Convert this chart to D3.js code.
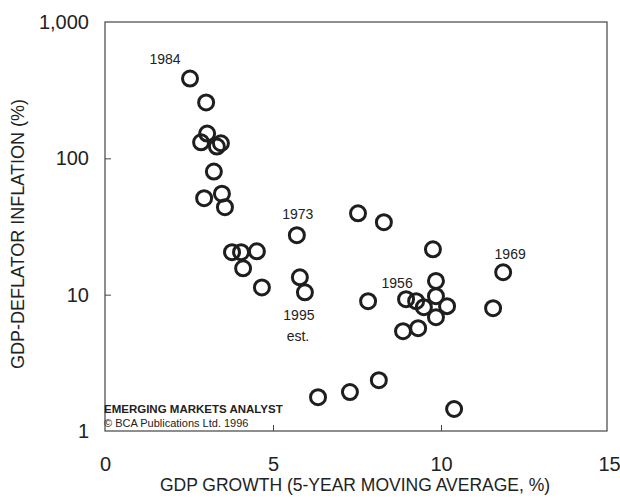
<!DOCTYPE html>
<html>
<head>
<meta charset="utf-8">
<script src="https://cdn.jsdelivr.net/npm/d3@7"></script>
<style>
  body { margin: 0; background: #fff; overflow: hidden; }
  svg { display: block; }
  svg text { font-family: "Liberation Sans", Arial, sans-serif; fill: #222; }
</style>
</head>
<body>
<div id="chart"></div>
<script>
// GDP growth (5-yr moving avg, %) vs GDP-deflator inflation (%)
const growth = [2.53, 3.01, 3.04, 2.86, 3.33, 3.45, 3.24, 2.95, 3.48, 3.57,
  5.71, 3.78, 4.05, 4.52, 4.11, 4.67, 5.80, 5.95, 7.53, 8.30,
  9.76, 9.85, 7.83, 8.96, 9.26, 9.85, 9.49, 10.18, 9.85, 8.87,
  9.32, 11.85, 11.55, 6.34, 7.29, 8.15, 10.39];
const inflation = [385, 257, 152, 131, 122, 129, 80, 51, 55, 43.8,
  27.3, 20.5, 20.5, 20.8, 15.6, 11.3, 13.4, 10.4, 39.5, 34,
  21.5, 12.6, 8.96, 9.27, 8.96, 9.75, 8.1, 8.24, 6.84, 5.4,
  5.68, 14.6, 7.96, 1.77, 1.93, 2.36, 1.45];
const xTicks = [0, 5, 10, 15];
const yTicks = [1, 10, 100, 1000];
// year labels: index of point they belong to
const labelPoint = [0, 10, 24, 31, 17];
const labelText = [['1984'], ['1973'], ['1956'], ['1969'], ['1995', 'est.']];
const labelOffset = [[-25, -15], [1, -16], [-19, -13], [7, -13], [-6, 28]];

const width = 620, height = 502;
const margin = {top: 22, right: 11, bottom: 71, left: 105};
const innerWidth = 609 - margin.left;
const innerHeight = height - margin.top - margin.bottom;

const svg = d3.select('#chart').append('svg')
  .attr('width', width)
  .attr('height', height);

const g = svg.append('g')
  .attr('transform', `translate(${margin.left},${margin.top})`);

const x = d3.scaleLinear().domain([0, 15]).range([0, innerWidth]);
const y = d3.scaleLog().domain([1, 1000]).range([innerHeight, 0]);

// frame
g.append('rect')
  .attr('width', 502)
  .attr('height', innerHeight)
  .attr('fill', 'none')
  .attr('stroke', '#444')
  .attr('stroke-width', 1.2);

// x axis, inward ticks only at 5 and 10
const xAxis = g.append('g')
  .attr('transform', `translate(0,${innerHeight})`)
  .call(d3.axisBottom(x).tickValues(xTicks).tickSize(-6).tickPadding(26)
    .tickFormat(d3.format('d')));
xAxis.select('.domain').remove();
xAxis.selectAll('.tick line')
  .attr('stroke', '#444')
  .attr('opacity', d => (d === 0 || d === 15) ? 0 : 1);
xAxis.selectAll('text')
  .attr('font-size', 20)
  .attr('fill', '#222');

const yAxis = g.append('g')
  .call(d3.axisLeft(y).tickValues(yTicks).tickSize(-6).tickPadding(16)
    .tickFormat(d3.format(',')));
yAxis.select('.domain').remove();
yAxis.selectAll('.tick line')
  .attr('stroke', '#444')
  .attr('opacity', d => (d === 1 || d === 1000) ? 0 : 1);
yAxis.selectAll('text')
  .attr('font-size', 20)
  .attr('fill', '#222');

// axis titles
svg.append('text')
  .attr('x', 355)
  .attr('y', 491)
  .attr('text-anchor', 'middle')
  .attr('font-size', 17.5)
  .text('GDP GROWTH (5-YEAR MOVING AVERAGE, %)');

svg.append('text')
  .attr('transform', `translate(24, 234) rotate(-90)`)
  .attr('text-anchor', 'middle')
  .attr('font-size', 18)
  .text('GDP-DEFLATOR INFLATION (%)');

// source note
g.append('text')
  .attr('x', -1)
  .attr('y', innerHeight - 18)
  .attr('font-size', 11.5)
  .attr('font-weight', 'bold')
  .text('EMERGING MARKETS ANALYST');
g.append('text')
  .attr('x', -1)
  .attr('y', innerHeight - 4)
  .attr('font-size', 11)
  .text('\u00A9 BCA Publications Ltd. 1996');

// points
g.selectAll('.pt')
  .data(growth.map((d, i) => ({gx: d, inf: inflation[i]})))
  .enter().append('circle')
  .attr('class', 'pt')
  .attr('cx', d => x(d.gx))
  .attr('cy', d => y(d.inf))
  .attr('r', 7.5)
  .attr('fill', 'none')
  .attr('stroke', '#1e1e1e')
  .attr('stroke-width', 3);

// year labels
labelPoint.forEach((p, i) => {
  const t = g.append('text')
    .attr('x', x(growth[p]) + labelOffset[i][0])
    .attr('y', y(inflation[p]) + labelOffset[i][1])
    .attr('text-anchor', 'middle')
    .attr('font-size', 14);
  labelText[i].forEach((s, j) => {
    t.append('tspan')
      .attr('x', x(growth[p]) + labelOffset[i][0] + (j ? -1 : 0))
      .attr('dy', j ? 21 : 0)
      .text(s);
  });
});
</script>
</body>
</html>
